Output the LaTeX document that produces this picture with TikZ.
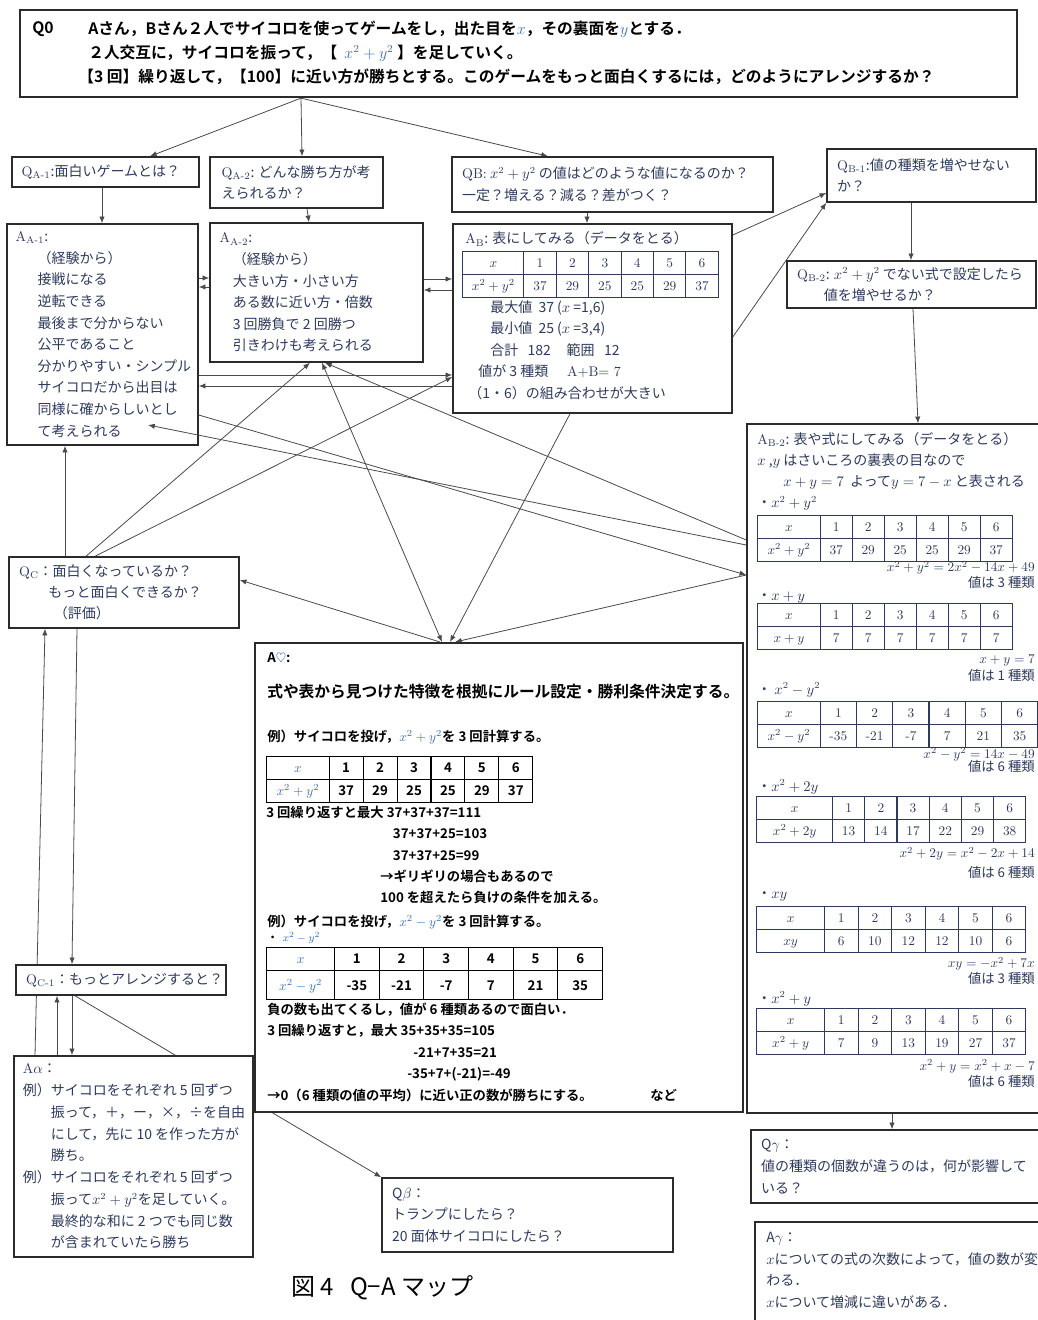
\documentclass[tikz,border=0pt]{standalone}
\usepackage{fontspec}
\usepackage{array}
\usepackage{tikz}
\usetikzlibrary{positioning,arrows.meta,calc,fit,backgrounds}
\newfontfamily\jp{Noto Sans CJK JP}[BoldFont={Noto Sans CJK JP Bold}]
\definecolor{ink}{HTML}{2F3B5C}
\definecolor{boxline}{HTML}{2B2B2B}
\definecolor{wire}{HTML}{4A4A4A}
\definecolor{mblue}{HTML}{3C6FB0}
\setlength{\tabcolsep}{0pt}
\setlength{\arrayrulewidth}{0.8pt}
\renewcommand{\arraystretch}{1.375}
\newcolumntype{C}[1]{>{\centering\arraybackslash}p{#1}}
\newcommand{\Qsub}[1]{{\rmfamily Q\textsubscript{#1}}}
\newcommand{\Asub}[1]{{\rmfamily A\textsubscript{#1}}}
% dice table: first column width, other column width, row label, six values
\newcommand{\dicetab}[5][$x$]{%
  \begin{tabular}{|C{#2}|*{6}{C{#3}|}}\hline
    #1 & 1 & 2 & 3 & 4 & 5 & 6\\\hline
    #4 & #5\\\hline
  \end{tabular}}

\begin{document}
\begin{tikzpicture}[
    x=0.75pt, y=-0.75pt,
    qabox/.style={draw=boxline, line width=1.15pt, fill=white, inner sep=0pt},
    txt/.style={inner sep=0pt, align=left, text=ink, font=\jp\fontsize{10.5}{16.2}\selectfont},
    aheart/.style={inner sep=0pt, align=left, font=\jp\bfseries\fontsize{10}{16.1}\selectfont},
    tab/.style={anchor=north west, inner sep=0pt, text=ink, font=\rmfamily\fontsize{10}{12}\selectfont},
    note/.style={anchor=east, inner sep=0pt, align=right, text=ink, font=\jp\fontsize{10}{12}\selectfont},
    arr/.style={draw=wire, line width=.6pt, -{Latex[length=5pt,width=4pt]}},
    link/.style={draw=wire, line width=.6pt}
]
\useasboundingbox (0,0) rectangle (1038,1320);

% ---- top question
\node[qabox, line width=1.7pt, fit={(20,10) (1017,97)}] (q0) {};
\node[txt, text=black, font=\jp\bfseries\fontsize{11.8}{18}\selectfont, anchor=west] (q0-tag) at (32,29) {Q0};
\node[txt, text=black, font=\jp\bfseries\fontsize{11.8}{18}\selectfont, anchor=west] (q0-text) at (88,53)
  {Aさん，Bさん２人でサイコロを使ってゲームをし，出た目を\textcolor{mblue}{$x$}，その裏面を\textcolor{mblue}{$y$}とする．\\
   ２人交互に，サイコロを振って，【\ \ \textcolor{mblue}{$x^2+y^2$} 】を足していく。\\
   \hspace*{-7.5pt}【3 回】繰り返して，【100】に近い方が勝ちとする。このゲームをもっと面白くするには，どのようにアレンジするか？};

% ---- second row of questions
\node[qabox, fit={(12,157) (199,187)}] (qa1) {};
\node[txt, right=7.5pt of qa1.west] (qa1-t) {\Qsub{A-1}:面白いゲームとは？};
\node[qabox, fit={(210,157) (383,208)}] (qa2) {};
\node[txt, right=9pt of qa2.west] (qa2-t) {\Qsub{A-2}: どんな勝ち方が考\\えられるか？};
\node[qabox, fit={(452,157) (773,212)}] (qb) {};
\node[txt, right=8pt of qb.west] (qb-t) {{\rmfamily QB:} $x^2+y^2$ の値はどのような値になるのか？\\一定？増える？減る？差がつく？};
\node[qabox, fit={(827,149) (1036,202)}] (qb1) {};
\node[txt, right=8pt of qb1.west] (qb1-t) {\Qsub{B-1}:値の種類を増やせない\\か？};
\node[qabox, fit={(787,261) (1036,308)}] (qb2) {};
\node[txt, right=8pt of qb2.west] (qb2-t) {\Qsub{B-2}: $x^2+y^2$ でない式で設定したら\\\hspace*{20pt}値を増やせるか？};

% ---- answers
\node[qabox, fit={(7,224) (198,445)}] (aa1) {};
\node[txt, right=6.75pt of aa1.west] (aa1-t) {\Asub{A-1}:\\
  \hspace*{16.5pt}（経験から）\\ \hspace*{16.5pt}接戦になる\\ \hspace*{16.5pt}逆転できる\\
  \hspace*{16.5pt}最後まで分からない\\ \hspace*{16.5pt}公平であること\\
  \hspace*{16.5pt}分かりやすい・シンプル\\ \hspace*{16.5pt}サイコロだから出目は\\
  \hspace*{16.5pt}同様に確からしいとし\\ \hspace*{16.5pt}て考えられる};
\node[qabox, fit={(210,223) (423,362)}] (aa2) {};
\node[txt, right=7.5pt of aa2.west] (aa2-t) {\Asub{A-2}:\\
  \hspace*{10pt}（経験から）\\ \hspace*{10pt}大きい方・小さい方\\ \hspace*{10pt}ある数に近い方・倍数\\
  \hspace*{10pt}3 回勝負で 2 回勝つ\\ \hspace*{10pt}引きわけも考えられる};

\node[qabox, fit={(453,224) (732,413)}] (ab) {};
\node[txt, anchor=west] (ab-t) at (465,239) {\Asub{B}: 表にしてみる（データをとる）};
\node[tab] (ab-tab) at (462,251) {\dicetab{45pt}{23.5pt}{$x^2+y^2$}{37 & 29 & 25 & 25 & 29 & 37}};
\node[txt, anchor=west] (ab-sum) at (468,350) {\hspace*{16.5pt}最大値\ \ 37 ($x$ =1,6)\\
  \hspace*{16.5pt}最小値\ \ 25 ($x$ =3,4)\\ \hspace*{16.5pt}合計\ \ \ 182\ \ \ \ \ 範囲\ \ \ 12\\
  \hspace*{7.5pt}値が 3 種類\ \ \ \ \ \ {\rmfamily A+B= 7}\\ （1・6）の組み合わせが大きい};

% ---- formulas and tables on the right
\node[qabox, fit={(747,424) (1045,1113)}] (ab2) {};
\node[txt, anchor=west, font=\jp\fontsize{10.5}{15.75}\selectfont] (ab2-t) at (757,471.5) {\Asub{B-2}: 表や式にしてみる（データをとる）\\
  $x$ ,$y$ はさいころの裏表の目なので\\ \hspace*{19.5pt}$x+y=7$\ \ よって$y=7-x$ と表される\\ ・$x^2+y^2$};
\node[tab] (tab1) at (757,515) {\dicetab{46pt}{23.2pt}{$x^2+y^2$}{37 & 29 & 25 & 25 & 29 & 37}};
\node[note] (note1) at (1035,575) {$x^2+y^2=2x^2-14x+49$\\値は 3 種類};
\node[txt, anchor=west] (lbl2) at (757,598) {・$x+y$};
\node[tab] (tab2) at (757,603) {\dicetab{46pt}{23.2pt}{$x+y$}{7 & 7 & 7 & 7 & 7 & 7}};
\node[note] (note2) at (1035,668.5) {$x+y=7$\\[1pt]値は 1 種類};
\node[txt, anchor=west] (lbl3) at (757,690) {・\ $x^2-y^2$};
\node[tab] (tab3) at (757,701) {\dicetab{46pt}{26.4pt}{$x^2-y^2$}{-35 & -21 & -7 & 7 & 21 & 35}};
\node[note] (note3) at (1035,760) {$x^2-y^2=14x-49$\\[-2pt]値は 6 種類};
\node[txt, anchor=west] (lbl4) at (757,787) {・$x^2+2y$};
\node[tab] (tab4) at (756,796) {\dicetab{56pt}{23.36pt}{$x^2+2y$}{13 & 14 & 17 & 22 & 29 & 38}};
\node[note] (note4) at (1035,863) {$x^2+2y=x^2-2x+14$\\[3pt]値は 6 種類};
\node[txt, anchor=west] (lbl5) at (757,897) {・$xy$};
\node[tab] (tab5) at (756,906) {\dicetab{50pt}{24.36pt}{$xy$}{6 & 10 & 12 & 12 & 10 & 6}};
\node[note] (note5) at (1035,971) {$xy=-x^2+7x$\\値は 3 種類};
\node[txt, anchor=west] (lbl6) at (757,999) {・$x^2+y$};
\node[tab] (tab6) at (756,1008) {\dicetab{50pt}{24.36pt}{$x^2+y$}{7 & 9 & 13 & 19 & 27 & 37}};
\node[note] (note6) at (1035,1073.5) {$x^2+y=x^2+x-7$\\値は 6 種類};

% ---- evaluation branch on the left
\node[qabox, fit={(9,557) (239,628)}] (qc) {};
\node[txt, right=8pt of qc.west, font=\jp\fontsize{10.5}{15.8}\selectfont] (qc-t) {\Qsub{C}：面白くなっているか？\\
  \hspace*{22pt}もっと面白くできるか？\\ \hspace*{26pt}（評価）};
\node[qabox, fit={(16,965) (226,995)}] (qc1) {};
\node[txt, right=8pt of qc1.west] (qc1-t) {\Qsub{C-1}：もっとアレンジすると？};
\node[qabox, fit={(14,1056) (253,1257)}] (aal) {};
\node[txt, right=7pt of aal.west, font=\jp\fontsize{10.5}{16.3}\selectfont] (aal-t) {{\rmfamily A}$\alpha$：\\
  例）サイコロをそれぞれ 5 回ずつ\\ \phantom{例）}振って，＋，ー，×，÷を自由\\
  \phantom{例）}にして，先に 10 を作った方が\\ \phantom{例）}勝ち。\\
  例）サイコロをそれぞれ 5 回ずつ\\ \phantom{例）}振って$x^2+y^2$を足していく。\\
  \phantom{例）}最終的な和に 2 つでも同じ数\\ \phantom{例）}が含まれていたら勝ち};
\node[qabox, fit={(382,1178) (673,1252)}] (qbeta) {};
\node[txt, right=8pt of qbeta.west] (qbeta-t) {Q$\beta$：\\トランプにしたら？\\20 面体サイコロにしたら？};

% ---- rule setting
\node[qabox, line width=1.5pt, fit={(255,643) (743,1112)}] (ah) {};
\node[aheart, anchor=west] (ah-t) at (267,658) {A\textcolor{mblue}{$\heartsuit$}:};
\node[aheart, anchor=west, font=\jp\bfseries\fontsize{11.8}{14}\selectfont] (ah-head) at (267,692)
  {式や表から見つけた特徴を根拠にルール設定・勝利条件決定する。};
\node[aheart, anchor=west] (ah-ex1) at (267,737) {例）サイコロを投げ，\textcolor{mblue}{$x^2+y^2$}を 3 回計算する。};
\node[tab, text=black, font=\jp\bfseries\fontsize{10}{12}\selectfont] (ah-tab1) at (266,756)
  {\dicetab[\textcolor{mblue}{$x$}]{46pt}{24.65pt}{\textcolor{mblue}{$x^2+y^2$}}{37 & 29 & 25 & 25 & 29 & 37}};
\node[aheart, anchor=west] (ah-sum1) at (266,855) {3 回繰り返すと最大 37+37+37=111\\
  \hspace*{95pt}37+37+25=103\\ \hspace*{95pt}37+37+25=99\\
  \hspace*{85.5pt}→ギリギリの場合もあるので\\ \hspace*{85.5pt}100 を超えたら負けの条件を加える。};
\node[aheart, anchor=west] (ah-ex2) at (267,922) {例）サイコロを投げ，\textcolor{mblue}{$x^2-y^2$}を 3 回計算する。};
\node[aheart, anchor=west, font=\jp\bfseries\fontsize{8}{10}\selectfont] (ah-lbl2) at (267,938) {・\ \ \textcolor{mblue}{$x^2-y^2$}};
\node[tab, text=black, font=\jp\bfseries\fontsize{10}{12}\selectfont] (ah-tab2) at (266,947)
  {\dicetab[\textcolor{mblue}{$x$}]{50pt}{32.7pt}{\rule[-6.5pt]{0pt}{21pt}\textcolor{mblue}{$x^2-y^2$}}{-35 & -21 & -7 & 7 & 21 & 35}};
\node[aheart, anchor=west] (ah-sum2) at (267,1052) {負の数も出てくるし，値が 6 種類あるので面白い．\\
  3 回繰り返すと，最大 35+35+35=105\\ \hspace*{109.5pt}-21+7+35=21\\ \hspace*{105pt}-35+7+(-21)=-49\\
  →0（6 種類の値の平均）に近い正の数が勝ちにする。};
\node[aheart, anchor=west] (ah-etc) at (650,1095) {など};

% ---- bottom right
\node[qabox, fit={(751,1130) (1045,1203)}] (qgam) {};
\node[txt, right=8pt of qgam.west] (qgam-t) {Q$\gamma$：\\値の種類の個数が違うのは，何が影響して\\いる？};
\node[qabox, fit={(755,1222) (1045,1340)}] (agam) {};
\node[txt, anchor=west] (agam-t) at (766,1270.5) {A$\gamma$：\\$x$についての式の次数によって，値の数が変\\わる．\\$x$について増減に違いがある．};

\node[anchor=west, inner sep=0pt, font=\jp\fontsize{18}{20}\selectfont] (caption) at (291,1288) {図 4\ \ \ Q−A\ マップ};

% ---- connectors
\begin{scope}[on background layer]
  \draw[arr] (q0.south -| 301,0) -- (qa1.north -| 150,0);
  \draw[arr] (q0.south -| 301,0) -- (qa2.north -| 302,0);
  \draw[arr] (q0.south -| 301,0) -- (qb.north -| 548,0);
  \draw[arr] (qa1.south -| 102,0) -- (aa1.north -| 102,0);
  \draw[arr] (qa2.south -| 307,0) -- (aa2.north -| 309,0);
  \draw[arr] (qb.south -| 587,0) -- (ab.north -| 587,0);
  \draw[arr] (qb1.south -| 911,0) -- (qb2.north -| 911,0);
  \draw[arr] (qb2.south -| 913,0) -- (ab2.north -| 918,0);
  \draw[arr] (aa1.east |- 0,278) -- (aa2.west |- 0,278);
  \draw[arr] (aa2.west |- 0,287) -- (aa1.east |- 0,287);
  \draw[arr] (aa2.east |- 0,279) -- (ab.west |- 0,279);
  \draw[arr] (ab.west |- 0,290) -- (aa2.east |- 0,290);
  \draw[arr] (aa1.east |- 0,375) -- (ab.west |- 0,375);
  \draw[arr] (ab.west |- 0,386) -- (aa1.east |- 0,386);
  \draw[arr] (ab.east |- 0,235) -- (qb1.west |- 0,193);
  \draw[arr] (ab.east |- 0,337) -- (qb1.south west);
  \draw[arr] (qc.north -| 65,0) -- (aa1.south -| 65,0);
  \draw[arr] (qc.north -| 86,0) -- (aa2.south -| 310,0);
  \draw[arr] (qc.north -| 95,0) -- (ab.west |- 0,377);
  \draw[arr] (aa1.east |- 0,415) -- (ab2.west |- 0,575);
  \draw[arr] (ab2.west |- 0,540) -- (aa2.south -| 325,0);
  \draw[arr, {Latex[length=5pt,width=4pt]}-{Latex[length=5pt,width=4pt]}] (aa2.south -| 322,0) -- (ah.north -| 442,0);
  \draw[arr] (ab.south -| 570,0) -- (ah.north -| 450,0);
  \draw[arr] (ab2.west |- 0,575) -- (ah.north -| 455,0);
  \draw[arr] (ah.north -| 440,0) -- (qc.east |- 0,580);
  \draw[arr] (qc.south -| 77,0) -- (qc1.north -| 72,0);
  \draw[arr] (aal.north -| 35,0) -- (qc.south -| 45,0);
  \draw[arr] (aal.north -| 57,0) -- (qc1.south -| 57,0);
  \draw[arr] (qc1.south -| 72,0) -- (aal.north -| 72,0);
  \draw[arr] (qc1.south -| 75,0) -- (qbeta.north west);
  \draw[arr] (ab2.south -| 892,0) -- (qgam.north -| 892,0);
\end{scope}
\draw[arr] (ab2.west |- 0,545) -- ([xshift=-38pt]aa1.east |- 0,425);
\end{tikzpicture}
\end{document}
